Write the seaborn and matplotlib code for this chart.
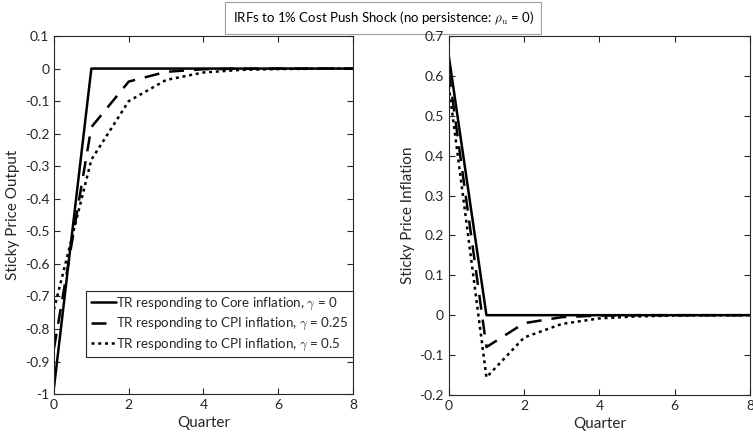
import numpy as np
import pandas as pd
import seaborn as sns
import matplotlib.pyplot as plt

# trimestres
quarters = [0, 1, 2, 3, 4, 5, 6, 7, 8]

# produto (sticky price output)
out_core = [-0.98, 0, 0, 0, 0, 0, 0, 0, 0]
out_cpi25 = [-0.86, -0.18, -0.04, -0.01, -0.002, -0.0005, 0, 0, 0]
out_cpi50 = [-0.74, -0.28, -0.10, -0.035, -0.012, -0.004, -0.0015, -0.0005, 0]

# inflacao (sticky price inflation)
inf_core = [0.65, 0, 0, 0, 0, 0, 0, 0, 0]
inf_cpi25 = [0.61, -0.08, -0.02, -0.005, -0.001, 0, 0, 0, 0]
inf_cpi50 = [0.575, -0.156, -0.056, -0.022, -0.008, -0.003, -0.001, -0.0004, 0]

labels = ["TR responding to Core inflation, $\\gamma$ = 0",
          "TR responding to CPI inflation, $\\gamma$ = 0.25",
          "TR responding to CPI inflation, $\\gamma$ = 0.5"]
estilos = ["-", (0, (6, 4)), (0, (1.2, 1.5))]

sns.set_style("ticks")
plt.rcParams["font.family"] = ["Lato", "DejaVu Sans"]
plt.rcParams["mathtext.fontset"] = "cm"

fig = plt.figure(figsize=(7.53, 4.34), dpi=100)
ax1 = fig.add_axes([0.0717, 0.092, 0.397, 0.825])
ax2 = fig.add_axes([0.596, 0.090, 0.400, 0.827])


def desenha(ax, series, ylabel, ylim, yticks):
    for vals, lab, ls in zip(series, labels, estilos):
        d = pd.DataFrame({"q": quarters, "v": vals})
        sns.lineplot(data=d, x="q", y="v", ax=ax, color="black", lw=1.8,
                     linestyle=ls, label=lab)
    ax.set_xlim(0, 8)
    ax.set_ylim(*ylim)
    ax.set_xticks([0, 2, 4, 6, 8])
    ax.set_yticks(yticks)
    ax.set_yticklabels([f"{t + 0:g}" for t in yticks])
    ax.set_xlabel("Quarter", fontsize=11, color="#262626", labelpad=4)
    ax.set_ylabel(ylabel, fontsize=11, color="#262626", labelpad=3)
    ax.tick_params(direction="in", top=True, right=True, labelsize=10,
                   colors="#262626", length=4, width=0.8)
    for s in ax.spines.values():
        s.set_visible(True)
        s.set_color("#262626")
        s.set_linewidth(0.8)


desenha(ax1, [out_core, out_cpi25, out_cpi50], "Sticky Price Output",
        (-1, 0.1), np.round(np.arange(-1, 0.11, 0.1), 1))
desenha(ax2, [inf_core, inf_cpi25, inf_cpi50], "Sticky Price Inflation",
        (-0.2, 0.7), np.round(np.arange(-0.2, 0.71, 0.1), 1))

ax2.get_legend().remove()
leg = ax1.legend(loc="lower right", bbox_to_anchor=(1.0, 0.103), fontsize=9.6,
                 frameon=True, fancybox=False, framealpha=1, handlelength=1.9,
                 handletextpad=0.0, borderpad=0.35, labelspacing=0.3,
                 borderaxespad=0)
leg.get_frame().set_edgecolor("#262626")
leg.get_frame().set_linewidth(0.8)

# caixa do titulo fica por baixo dos eixos (o "0.7" aparece por cima)
fig.text(0.509, 0.958, "IRFs to 1% Cost Push Shock (no persistence: $\\rho_\\mathrm{u}$ = 0)",
         ha="center", va="center", fontsize=9.5, color="black", zorder=-1,
         bbox=dict(boxstyle="square,pad=0.55", fc="white", ec="#a0a0a0", lw=0.8))

plt.savefig("out.png", dpi=100)
